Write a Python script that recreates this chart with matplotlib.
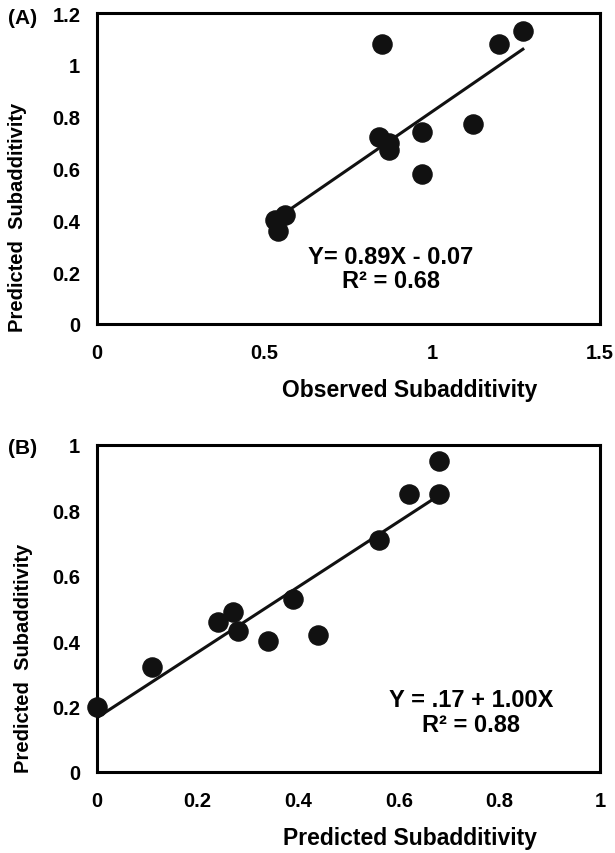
import numpy as np
import matplotlib
matplotlib.use('Agg')
import matplotlib.pyplot as plt

plt.rcParams['font.family'] = ['Liberation Sans', 'DejaVu Sans']
plt.rcParams['font.weight'] = 'bold'

# panel A data
obs_a = [0.85, 1.20, 1.27, 1.12, 0.97, 0.97, 0.84, 0.87, 0.87, 0.56, 0.53, 0.54]
pred_a = [1.08, 1.08, 1.13, 0.77, 0.74, 0.58, 0.72, 0.70, 0.67, 0.42, 0.40, 0.36]
slope_a, icpt_a = 0.89, -0.07
fit_range_a = [0.55, 1.27]

# panel B data
x_b = [0.68, 0.68, 0.62, 0.56, 0.39, 0.27, 0.24, 0.28, 0.34, 0.44, 0.11, 0.0]
y_b = [0.95, 0.85, 0.85, 0.71, 0.53, 0.49, 0.46, 0.43, 0.40, 0.42, 0.32, 0.20]
slope_b, icpt_b = 1.00, 0.166
fit_range_b = [0.0, 0.68]

fig = plt.figure(figsize=(6.15, 8.54), dpi=100)
W, H = 615, 854


def add_ax(l, t, r, b):
    return fig.add_axes([l / W, 1 - b / H, (r - l) / W, (b - t) / H])


def style(ax):
    for s in ax.spines.values():
        s.set_linewidth(2.2)
    ax.tick_params(length=0, labelsize=14.5)
    ax.tick_params(axis='x', pad=14)
    ax.tick_params(axis='y', pad=12)
    for lab in ax.get_xticklabels() + ax.get_yticklabels():
        lab.set_fontweight('bold')


# (A)
ax1 = add_ax(97, 14, 600, 325)
ax1.scatter(obs_a, pred_a, s=190, color='#111111', zorder=3)
xx = np.array(fit_range_a)
ax1.plot(xx, slope_a * xx + icpt_a, color='#111111', lw=2.2)
ax1.set_xlim(0, 1.5)
ax1.set_ylim(0, 1.2)
ax1.set_xticks([0, 0.5, 1, 1.5])
ax1.set_xticklabels(['0', '0.5', '1', '1.5'])
ax1.set_yticks([0, 0.2, 0.4, 0.6, 0.8, 1.0, 1.2])
ax1.set_yticklabels(['0', '0.2', '0.4', '0.6', '0.8', '1', '1.2'])
style(ax1)
ax1.text(0.877, 0.262, 'Y= 0.89X - 0.07', ha='center', va='center', fontsize=17, fontweight='bold')
ax1.text(0.877, 0.167, 'R² = 0.68', ha='center', va='center', fontsize=17, fontweight='bold')
fig.text(410 / W, 1 - 391 / H, 'Observed Subadditivity', ha='center', va='center', fontsize=16.5, fontweight='bold')
fig.text(18 / W, 1 - 217 / H, 'Predicted  Subadditivity', ha='center', va='center', rotation=90,
         fontsize=14.5, fontweight='bold')
fig.text(8 / W, 1 - 18 / H, '(A)', ha='left', va='center', fontsize=15, fontweight='bold')

# (B)
ax2 = add_ax(97, 446, 600, 773)
ax2.scatter(x_b, y_b, s=190, color='#111111', zorder=3, clip_on=False)
xx = np.array(fit_range_b)
ax2.plot(xx, slope_b * xx + icpt_b, color='#111111', lw=2.2)
ax2.set_xlim(0, 1)
ax2.set_ylim(0, 1)
ax2.set_xticks([0, 0.2, 0.4, 0.6, 0.8, 1])
ax2.set_xticklabels(['0', '0.2', '0.4', '0.6', '0.8', '1'])
ax2.set_yticks([0, 0.2, 0.4, 0.6, 0.8, 1])
ax2.set_yticklabels(['0', '0.2', '0.4', '0.6', '0.8', '1'])
style(ax2)
ax2.text(0.744, 0.222, 'Y = .17 + 1.00X', ha='center', va='center', fontsize=17, fontweight='bold')
ax2.text(0.744, 0.146, 'R² = 0.88', ha='center', va='center', fontsize=17, fontweight='bold')
fig.text(410 / W, 1 - 839 / H, 'Predicted Subadditivity', ha='center', va='center', fontsize=16.5, fontweight='bold')
fig.text(24 / W, 1 - 658 / H, 'Predicted  Subadditivity', ha='center', va='center', rotation=90,
         fontsize=14.5, fontweight='bold')
fig.text(8 / W, 1 - 449 / H, '(B)', ha='left', va='center', fontsize=15, fontweight='bold')

fig.savefig('out.png', dpi=100)
